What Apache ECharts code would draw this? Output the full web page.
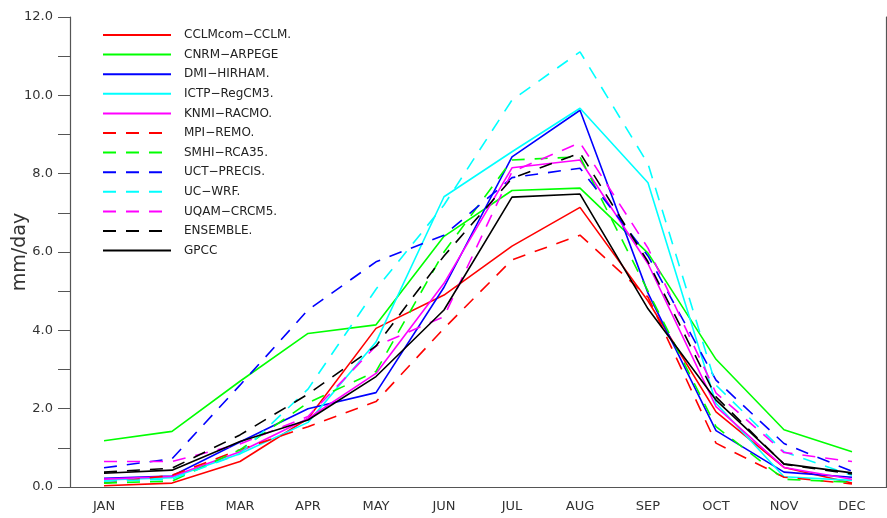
<!DOCTYPE html>
<html>
<head>
<meta charset="utf-8">
<script src="https://cdn.jsdelivr.net/npm/echarts@6/dist/echarts.min.js"></script>
<style>
  html, body { margin: 0; padding: 0; background: #fff; }
  #chart { width: 887px; height: 518px; }
</style>
</head>
<body>
<div id="chart"></div>
<script>
// monthly precipitation, mm/day
const months = ['JAN', 'FEB', 'MAR', 'APR', 'MAY', 'JUN', 'JUL', 'AUG', 'SEP', 'OCT', 'NOV', 'DEC'];
const yTicks = ['0.0', '2.0', '4.0', '6.0', '8.0', '10.0', '12.0'];

const cclm     = [0.03, 0.10, 0.65, 1.75, 4.05, 4.90, 6.15, 7.14, 4.75, 1.92, 0.50, 0.10];
const cnrm     = [1.18, 1.42, 2.70, 3.92, 4.14, 6.40, 7.57, 7.63, 5.97, 3.26, 1.46, 0.90];
const dmi      = [0.22, 0.28, 1.15, 2.00, 2.41, 5.10, 8.43, 9.62, 4.95, 1.44, 0.38, 0.25];
const ictp     = [0.18, 0.24, 0.85, 1.65, 3.70, 7.41, 8.56, 9.67, 7.77, 2.14, 0.26, 0.17];
const knmi     = [0.20, 0.27, 0.90, 1.75, 2.90, 5.20, 8.15, 8.35, 5.70, 2.05, 0.50, 0.20];
const mpi      = [0.10, 0.30, 0.95, 1.54, 2.18, 4.05, 5.80, 6.43, 4.85, 1.12, 0.25, 0.08];
const smhi     = [0.10, 0.15, 0.95, 2.15, 2.95, 6.00, 8.35, 8.43, 5.00, 1.54, 0.20, 0.12];
const uct      = [0.49, 0.72, 2.60, 4.52, 5.75, 6.43, 7.90, 8.14, 5.90, 2.73, 1.11, 0.40];
const ucwrf    = [0.15, 0.20, 0.85, 2.50, 5.05, 7.20, 9.88, 11.11, 8.25, 2.60, 0.90, 0.30];
const uqam     = [0.65, 0.65, 1.10, 1.80, 3.60, 4.35, 8.05, 8.79, 6.10, 2.40, 0.88, 0.65];
const ensemble = [0.38, 0.48, 1.33, 2.37, 3.60, 5.90, 7.88, 8.53, 5.75, 2.30, 0.58, 0.33];
const gpcc     = [0.35, 0.43, 1.16, 1.71, 2.82, 4.52, 7.40, 7.48, 4.55, 2.22, 0.59, 0.36];

const names = ['CCLMcom−CCLM.', 'CNRM−ARPEGE', 'DMI−HIRHAM.', 'ICTP−RegCM3.', 'KNMI−RACMO.',
    'MPI−REMO.', 'SMHI−RCA35.', 'UCT−PRECIS.', 'UC−WRF.', 'UQAM−CRCM5.', 'ENSEMBLE.', 'GPCC'];
const values = [cclm, cnrm, dmi, ictp, knmi, mpi, smhi, uct, ucwrf, uqam, ensemble, gpcc];
const colors = ['#ff0000', '#00ff00', '#0000ff', '#00ffff', '#ff00ff',
    '#ff0000', '#00ff00', '#0000ff', '#00ffff', '#ff00ff', '#000000', '#000000'];
const dashed = [false, false, false, false, false, true, true, true, true, true, true, false];

const axisColor = '#555';
const font = 'DejaVu Sans';

let chart = echarts.init(document.getElementById('chart'));

let series = names.map((name, i) => ({
    name: name,
    type: 'line',
    data: values[i],
    symbol: 'none',
    silent: true,
    z: i === 11 ? 5 : 3,
    lineStyle: {
        color: colors[i],
        width: 1.6,
        type: dashed[i] ? [13, 10] : 'solid'
    },
    itemStyle: { color: colors[i] }
}));

let option = {
    animation: false,
    backgroundColor: '#fff',
    textStyle: { fontFamily: font },
    grid: { left: 70, right: 1, top: 17, bottom: 31, outerBoundsMode: 'none' },
    legend: {
        orient: 'vertical',
        left: 97,
        top: 23,
        padding: 5,
        itemWidth: 68,
        itemHeight: 14,
        itemGap: 5.6,
        selectedMode: false,
        data: names,
        itemStyle: { opacity: 0 },
        textStyle: {
            fontFamily: font,
            fontSize: 12,
            lineHeight: 14,
            color: '#222',
            padding: [0, 0, 0, 8]
        }
    },
    xAxis: [
        {
            type: 'category',
            data: months,
            boundaryGap: true,
            axisLine: { lineStyle: { color: axisColor, width: 1.2 } },
            axisTick: { length: 6, lineStyle: { color: axisColor } },
            axisLabel: { color: '#333', fontSize: 13, margin: 13, fontFamily: font }
        },
        {
            type: 'category',
            data: months,
            position: 'top',
            boundaryGap: true,
            axisLine: { lineStyle: { color: axisColor, width: 1.2 } },
            axisTick: { length: 5, lineStyle: { color: axisColor } },
            axisLabel: { show: false }
        }
    ],
    yAxis: [
        {
            type: 'value',
            min: 0,
            max: 12,
            interval: 2,
            name: 'mm/day',
            nameLocation: 'middle',
            nameGap: 40,
            nameMoveOverlap: false,
            nameTextStyle: { fontSize: 19, color: '#333', fontFamily: font },
            splitLine: { show: false },
            axisLine: { show: true, lineStyle: { color: axisColor, width: 1.2 } },
            axisTick: { show: true, length: 12, lineStyle: { color: axisColor } },
            minorTick: { show: true, splitNumber: 2, length: 12, lineStyle: { color: axisColor } },
            axisLabel: {
                color: '#333',
                fontSize: 13,
                margin: 17,
                fontFamily: font,
                formatter: (v) => yTicks[Math.round(v / 2)]
            }
        },
        {
            type: 'value',
            min: 0,
            max: 12,
            interval: 2,
            position: 'right',
            splitLine: { show: false },
            axisLine: { show: true, lineStyle: { color: axisColor, width: 1.2 } },
            axisTick: { show: true, length: 8, lineStyle: { color: axisColor } },
            minorTick: { show: true, splitNumber: 2, length: 8, lineStyle: { color: axisColor } },
            axisLabel: { show: false }
        }
    ],
    series: series
};

option && chart.setOption(option);
</script>
</body>
</html>
